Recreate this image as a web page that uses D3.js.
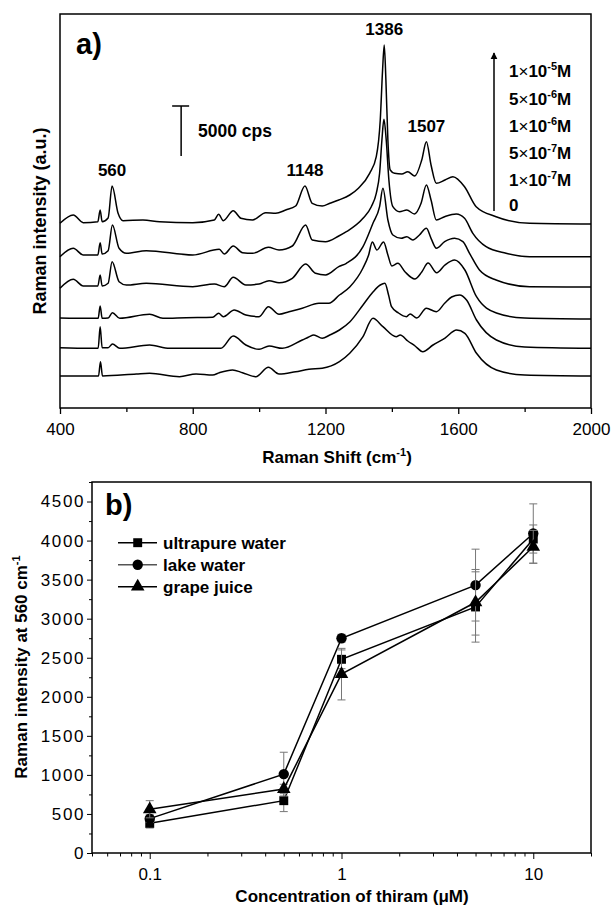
<!doctype html>
<meta charset="utf-8">
<title>Thiram SERS spectra</title>
<script src="https://d3js.org/d3.v7.min.js"></script>
<style>
body { margin: 0; background: #fff; }
text { font-family: "Liberation Sans", Arial, sans-serif; fill: #000; }
</style>
<body>
<script>
// ---- panel a) : Raman spectra, stacked (cps incl. offset), [shift, intensity]
var spec1e5 = [[400,18470],[440,19300],[470,18530],[514,18630],[521,19800],[527,18630],[545,19000],[557,22200],[575,19470],[590,18730],[650,18800],[700,18630],[800,18530],[865,18800],[878,19370],[892,18730],[922,19730],[945,18970],[980,18800],[1020,19530],[1050,19470],[1080,19800],[1110,20200],[1138,22200],[1160,20470],[1190,20200],[1213,20470],[1240,20800],[1273,21300],[1300,22000],[1333,23470],[1353,25130],[1365,28800],[1372,33800],[1377,36300],[1382,32800],[1388,26800],[1395,23800],[1408,23470],[1430,23400],[1448,23630],[1469,23200],[1490,24800],[1504,26630],[1518,24300],[1534,22470],[1560,22800],[1584,23130],[1619,22130],[1654,20130],[1714,19130],[1815,18470],[2000,18400]];
var spec5e6 = [[400,15130],[440,15970],[470,15300],[514,15300],[521,16530],[527,15400],[545,15730],[558,18300],[578,15970],[600,15470],[660,15730],[800,15300],[880,15870],[895,15400],[922,16200],[950,15530],[980,15470],[1028,16070],[1060,15800],[1100,16200],[1140,18300],[1160,16800],[1200,16630],[1240,17200],[1263,17630],[1313,18970],[1338,20130],[1353,21470],[1363,23470],[1370,26800],[1376,28870],[1383,26800],[1391,22800],[1403,20130],[1423,19630],[1445,19800],[1468,19400],[1488,20470],[1504,22300],[1518,20800],[1534,18800],[1559,19130],[1594,19400],[1619,18970],[1644,17470],[1684,16130],[1744,15470],[1815,15130],[2000,15130]];
var spec1e6 = [[400,11970],[440,12870],[470,12200],[514,12200],[521,13300],[527,12200],[545,12470],[557,14630],[578,12630],[600,12300],[660,12470],[800,12130],[865,12400],[895,12130],[922,13070],[960,12300],[1000,12400],[1030,12730],[1060,12530],[1100,12970],[1140,14400],[1170,13470],[1200,13300],[1240,14130],[1263,14470],[1313,16130],[1343,18470],[1363,20130],[1373,21970],[1388,18800],[1403,17300],[1428,16970],[1445,17130],[1463,16800],[1483,17300],[1504,17970],[1518,16970],[1534,15970],[1559,16630],[1589,16970],[1614,16630],[1634,15470],[1664,13800],[1714,12800],[1815,12130],[2000,12100]];
var spec5e7 = [[400,9000],[490,8970],[515,8970],[521,10200],[527,8970],[545,9000],[558,9530],[580,8970],[670,9370],[710,8970],[780,9030],[860,9070],[878,9470],[892,9130],[925,9800],[960,9300],[1000,9130],[1028,10130],[1060,9370],[1090,9630],[1130,9970],[1180,10470],[1210,10470],[1242,11300],[1273,12100],[1313,14000],[1330,15300],[1341,16600],[1355,15800],[1375,16600],[1388,15300],[1400,14200],[1418,14470],[1440,13600],[1469,12900],[1490,13600],[1509,14500],[1535,13530],[1560,14300],[1589,14800],[1620,13800],[1655,11130],[1715,9500],[1800,9000],[2000,8900]];
var spec1e7 = [[400,6030],[490,5970],[515,5970],[521,8130],[527,6030],[545,6030],[558,6400],[580,5970],[670,6300],[730,5970],[830,5970],[885,5970],[922,7200],[960,6300],[1000,5870],[1030,6200],[1070,5970],[1130,6800],[1148,7070],[1165,7300],[1190,6970],[1213,7300],[1242,7800],[1273,8600],[1313,10300],[1343,11600],[1365,12300],[1379,12470],[1390,11300],[1399,10130],[1420,9500],[1444,9130],[1455,9400],[1475,9000],[1504,9970],[1534,9630],[1559,10470],[1580,11100],[1604,11300],[1625,10800],[1655,8800],[1715,6800],[1800,6100],[2000,5970]];
var spec0 = [[400,3200],[516,3200],[522,4630],[528,3200],[630,3400],[670,3470],[760,3130],[810,3400],[860,3300],[880,3530],[920,3800],[950,3530],[990,3130],[1028,4070],[1060,3400],[1110,3630],[1150,3870],[1190,3970],[1242,4630],[1273,5470],[1313,7130],[1343,8970],[1373,8130],[1413,7130],[1425,7300],[1448,6700],[1470,6200],[1493,5630],[1524,6300],[1559,6970],[1595,7800],[1620,7470],[1655,5470],[1715,3800],[1800,3300],[2000,3200]];

var peakShifts = [560, 1148, 1386, 1507];
var concMant = ['1', '5', '1', '5', '1'];
var concExp  = ['-5', '-6', '-6', '-7', '-7'];
var shiftTicks = [400, 800, 1200, 1600, 2000];
var scaleBarCps = 5000;

// ---- panel b) : intensity at 560 cm-1 vs concentration
var conc = [0.1, 0.5, 1, 5, 10];
var ultrapure    = [380, 670, 2480, 3150, 4020];
var ultrapureErr = [60, 140, 120, 450, 180];
var lake         = [440, 1010, 2750, 3430, 4090];
var lakeErr      = [50, 280, 50, 460, 380];
var grape        = [560, 820, 2290, 3210, 3920];
var grapeErr     = [110, 60, 330, 420, 210];
var seriesNames  = ['ultrapure water', 'lake water', 'grape juice'];
var countTicks   = d3.range(0, 4501, 500);

var svg = d3.select('body').append('svg')
  .attr('width', 612).attr('height', 905);

svg.append('defs').append('marker')
  .attr('id', 'arr').attr('viewBox', '0 0 10 10')
  .attr('refX', 9).attr('refY', 5)
  .attr('markerWidth', 7).attr('markerHeight', 9)
  .attr('markerUnits', 'userSpaceOnUse')
  .attr('orient', 'auto')
  .append('path').attr('d', 'M0,0L10,5L0,10z').attr('fill', '#000');

// ===== panel a =====
var xA = d3.scaleLinear().domain([400, 2000]).range([60, 591]);
var yA = d3.scaleLinear().domain([0, 39400]).range([408, 14]);

var gA = svg.append('g');
var spectra = [spec1e5, spec5e6, spec1e6, spec5e7, spec1e7, spec0];
var line = d3.line()
  .x(function(d) { return xA(d[0]); })
  .y(function(d) { return yA(d[1]); })
  .curve(d3.curveMonotoneX);

gA.selectAll('path.spec').data(spectra).enter().append('path')
  .attr('class', 'spec')
  .attr('d', line)
  .attr('fill', 'none').attr('stroke', '#000').attr('stroke-width', 1.5);

// frame
gA.append('rect')
  .attr('x', xA(400)).attr('y', yA(39400))
  .attr('width', xA(2000) - xA(400)).attr('height', yA(0) - yA(39400))
  .attr('fill', 'none').attr('stroke', '#000').attr('stroke-width', 1.5);

var axA = gA.append('g').attr('transform', 'translate(0,' + yA(0) + ')')
  .call(d3.axisBottom(xA).tickValues(shiftTicks).tickSize(6).tickPadding(9).tickFormat(d3.format('d')));
axA.append('g').call(d3.axisBottom(xA).tickValues([600, 1000, 1400, 1800]).tickSize(4).tickFormat(''));
axA.selectAll('.domain').remove();
axA.selectAll('line').attr('stroke-width', 1.3);
axA.selectAll('text').attr('font-size', 17).attr('font-family', 'Liberation Sans, Arial, sans-serif');

var xt = gA.append('text').attr('x', 337).attr('y', 463).attr('text-anchor', 'middle')
  .attr('font-size', 17).attr('font-weight', 'bold');
xt.append('tspan').text('Raman Shift (cm');
xt.append('tspan').attr('dy', -7).attr('font-size', 11).text('-1');
xt.append('tspan').attr('dy', 7).text(')');

gA.append('text').attr('transform', 'translate(46,221) rotate(-90)')
  .attr('text-anchor', 'middle').attr('font-size', 18).attr('font-weight', 'bold')
  .text('Raman intensity (a.u.)');

gA.append('text').attr('x', 76).attr('y', 54)
  .attr('font-size', 29).attr('font-weight', 'bold').text('a)');

// peak labels above the top spectrum
peakShifts.forEach(function(s) {
  var near = spec1e5.filter(function(d) { return Math.abs(d[0] - s) <= 25; });
  var top = d3.greatest(near, function(d) { return d[1]; });
  gA.append('text').attr('x', xA(top[0])).attr('y', yA(top[1]) - 10)
    .attr('text-anchor', 'middle').attr('font-size', 17).attr('font-weight', 'bold')
    .text(s);
});

// 5000 cps scale bar
var barX = xA(765), barLo = 25200;
gA.append('line').attr('x1', barX).attr('x2', barX)
  .attr('y1', yA(barLo)).attr('y2', yA(barLo + scaleBarCps))
  .attr('stroke', '#000').attr('stroke-width', 1.5);
gA.append('line').attr('x1', barX - 9).attr('x2', barX + 8)
  .attr('y1', yA(barLo + scaleBarCps)).attr('y2', yA(barLo + scaleBarCps))
  .attr('stroke', '#000').attr('stroke-width', 1.5);
gA.append('text').attr('x', 198).attr('y', 137)
  .attr('font-size', 17.5).attr('font-weight', 'bold').text(scaleBarCps + ' cps');

// concentration arrow and labels
gA.append('line').attr('x1', 494).attr('x2', 494).attr('y1', 211).attr('y2', 53)
  .attr('stroke', '#000').attr('stroke-width', 1.5).attr('marker-end', 'url(#arr)');

concMant.forEach(function(m, i) {
  var t = gA.append('text').attr('x', 509).attr('y', 77.3 + i * 27.2)
    .attr('font-size', 17).attr('font-weight', 'bold');
  t.append('tspan').text(m);
  t.append('tspan').attr('font-weight', 'normal').text('\u00d7');
  t.append('tspan').text('10');
  t.append('tspan').attr('dy', -7).attr('font-size', 11).text(concExp[i]);
  t.append('tspan').attr('dy', 7).text('M');
});
gA.append('text').attr('x', 509).attr('y', 211)
  .attr('font-size', 17).attr('font-weight', 'bold').text('0');

// ===== panel b =====
var xB = d3.scaleLog().domain([0.05, 20]).range([92, 591]);
var yB = d3.scaleLinear().domain([0, 4750]).range([853, 482]);
var gB = svg.append('g');

gB.append('rect')
  .attr('x', xB(0.05)).attr('y', yB(4750))
  .attr('width', xB(20) - xB(0.05)).attr('height', yB(0) - yB(4750))
  .attr('fill', 'none').attr('stroke', '#000').attr('stroke-width', 1.5);

var minorLog = [0.05, 0.06, 0.07, 0.08, 0.09, 0.2, 0.3, 0.4, 0.5, 0.6, 0.7, 0.8, 0.9,
                2, 3, 4, 5, 6, 7, 8, 9, 20];
var axBx = gB.append('g').attr('transform', 'translate(0,' + yB(0) + ')')
  .call(d3.axisBottom(xB).tickValues([0.1, 1, 10]).tickSize(6).tickPadding(8.5)
    .tickFormat(function(d) { return String(d); }));
axBx.append('g').call(d3.axisBottom(xB).tickValues(minorLog).tickSize(3.5).tickFormat(''));
axBx.selectAll('.domain').remove();
axBx.selectAll('text').attr('font-size', 17).attr('font-family', 'Liberation Sans, Arial, sans-serif');

var axBy = gB.append('g').attr('transform', 'translate(' + xB(0.05) + ',0)')
  .call(d3.axisLeft(yB).tickValues(countTicks).tickSize(5).tickPadding(2).tickFormat(d3.format('d')));
axBy.append('g').call(d3.axisLeft(yB).tickValues(countTicks.map(function(d) { return d + 250; }))
  .tickSize(3).tickFormat(''));
axBy.selectAll('.domain').remove();
axBy.selectAll('text').attr('font-size', 17).attr('letter-spacing', 1.6)
  .attr('font-family', 'Liberation Sans, Arial, sans-serif');

gB.append('text').attr('x', 352).attr('y', 902).attr('text-anchor', 'middle')
  .attr('font-size', 17).attr('font-weight', 'bold')
  .text('Concentration of thiram (\u03bcM)');

var yt = gB.append('text').attr('transform', 'translate(27,667) rotate(-90)')
  .attr('text-anchor', 'middle').attr('font-size', 17).attr('font-weight', 'bold');
yt.append('tspan').text('Raman intensity at 560 cm');
yt.append('tspan').attr('dy', -7).attr('font-size', 11).text('-1');

gB.append('text').attr('x', 105).attr('y', 515)
  .attr('font-size', 29).attr('font-weight', 'bold').text('b)');

var series = [
  { name: seriesNames[0], v: ultrapure, e: ultrapureErr, sym: d3.symbolSquare, size: 80 },
  { name: seriesNames[1], v: lake, e: lakeErr, sym: d3.symbolCircle, size: 85 },
  { name: seriesNames[2], v: grape, e: grapeErr, sym: d3.symbolTriangle, size: 80 }
];

var lineB = d3.line()
  .x(function(d) { return xB(d[0]); })
  .y(function(d) { return yB(d[1]); });

series.forEach(function(s) {
  var pts = conc.map(function(c, i) { return [c, s.v[i], s.e[i]]; });
  var eb = gB.append('g').attr('stroke', '#777').attr('stroke-width', 1);
  pts.forEach(function(p) {
    var x = xB(p[0]);
    eb.append('line').attr('x1', x).attr('x2', x).attr('y1', yB(p[1] - p[2])).attr('y2', yB(p[1] + p[2]));
    [p[1] - p[2], p[1] + p[2]].forEach(function(v) {
      eb.append('line').attr('x1', x - 4).attr('x2', x + 4).attr('y1', yB(v)).attr('y2', yB(v));
    });
  });
  gB.append('path').datum(pts).attr('d', lineB)
    .attr('fill', 'none').attr('stroke', '#000').attr('stroke-width', 1.5);
  gB.selectAll(null).data(pts).enter().append('path')
    .attr('transform', function(d) { return 'translate(' + xB(d[0]) + ',' + yB(d[1]) + ')'; })
    .attr('d', d3.symbol().type(s.sym).size(s.size))
    .attr('fill', '#000');
});

// legend
series.forEach(function(s, i) {
  var ly = 542.7 + i * 22;
  gB.append('line').attr('x1', 118).attr('x2', 157).attr('y1', ly).attr('y2', ly)
    .attr('stroke', i === 1 ? '#555' : '#000').attr('stroke-width', 1.5);
  gB.append('path').attr('transform', 'translate(137.7,' + ly + ')')
    .attr('d', d3.symbol().type(s.sym).size(s.size)).attr('fill', '#000');
  gB.append('text').attr('x', 163).attr('y', ly + 6)
    .attr('font-size', 17).attr('font-weight', 'bold').text(s.name);
});
</script>
</body>
